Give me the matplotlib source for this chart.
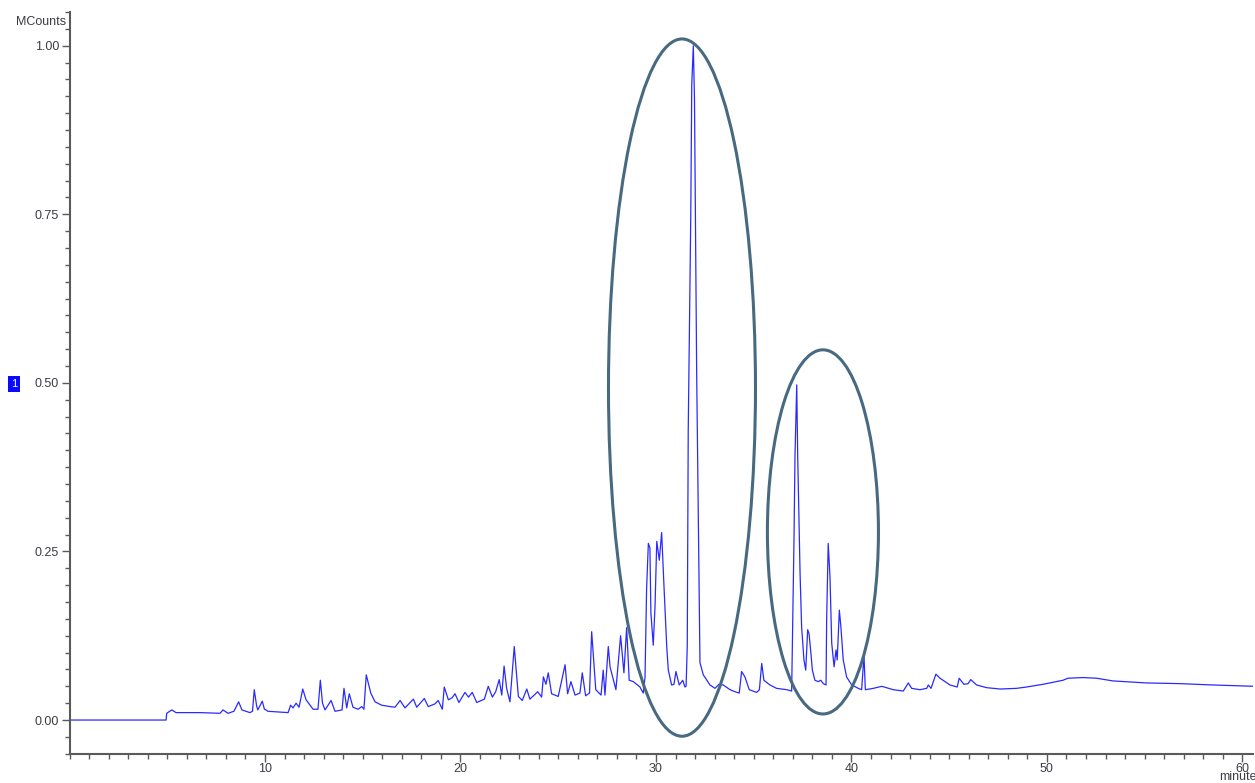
import matplotlib
matplotlib.use("Agg")
import matplotlib.pyplot as plt
from matplotlib.patches import Ellipse
from matplotlib.ticker import MultipleLocator, FormatStrFormatter

plt.rcParams['font.family'] = ['Liberation Sans', 'DejaVu Sans']

# chromatogram trace (minutes, MCounts)
time_min = [
    0.00, 4.94, 4.97, 5.23, 5.45, 6.68, 7.70, 7.85, 8.11, 8.41, 8.65, 8.82, 9.23, 9.36,
    9.45, 9.57, 9.63, 9.86, 9.97, 10.05, 10.15, 11.18, 11.31, 11.43, 11.59, 11.74, 11.93,
    12.10, 12.46, 12.71, 12.83, 12.94, 13.07, 13.38, 13.58, 13.94, 14.04, 14.18, 14.31,
    14.50, 14.76, 14.95, 15.06, 15.18, 15.41, 15.63, 15.97, 16.39, 16.65, 16.91, 17.16,
    17.59, 17.76, 18.15, 18.35, 18.70, 18.86, 19.07, 19.17, 19.38, 19.57, 19.72, 19.92,
    20.23, 20.41, 20.60, 20.83, 21.22, 21.42, 21.63, 21.80, 21.98, 22.11, 22.23, 22.36,
    22.53, 22.75, 22.96, 23.16, 23.39, 23.55, 23.95, 24.15, 24.24, 24.37, 24.49, 24.66,
    25.00, 25.35, 25.48, 25.65, 25.86, 26.11, 26.23, 26.40, 26.60, 26.71, 26.92, 27.19,
    27.30, 27.39, 27.56, 27.65, 27.95, 28.19, 28.36, 28.50, 28.63, 28.84, 29.18, 29.35,
    29.44, 29.52, 29.61, 29.69, 29.74, 29.86, 29.95, 30.04, 30.17, 30.29, 30.41, 30.55,
    30.63, 30.80, 30.92, 31.02, 31.19, 31.37, 31.48, 31.54, 31.60, 31.65, 31.70, 31.78,
    31.83, 31.91, 31.97, 32.08, 32.17, 32.25, 32.42, 32.56, 32.76, 33.02, 33.22, 33.44,
    33.79, 34.04, 34.26, 34.38, 34.55, 34.77, 35.15, 35.29, 35.41, 35.52, 35.83, 36.17,
    36.69, 36.94, 37.06, 37.11, 37.20, 37.25, 37.31, 37.37, 37.45, 37.57, 37.66, 37.76,
    37.83, 37.91, 38.00, 38.13, 38.30, 38.43, 38.56, 38.70, 38.73, 38.81, 38.90, 38.99,
    39.11, 39.21, 39.27, 39.38, 39.46, 39.58, 39.75, 40.01, 40.35, 40.52, 40.64, 40.71,
    41.12, 41.55, 42.14, 42.65, 42.91, 43.08, 43.50, 43.85, 43.93, 44.07, 44.32, 44.53,
    45.04, 45.41, 45.51, 45.75, 45.97, 46.10, 46.40, 46.92, 47.60, 48.45, 48.96, 49.80,
    50.82, 51.07, 51.84, 52.54, 53.38, 55.10, 56.80, 58.49, 60.64,
]
counts = [
    0.000, 0.000, 0.010, 0.015, 0.011, 0.011, 0.010, 0.015, 0.010, 0.013, 0.027, 0.015, 0.011, 0.013,
    0.045, 0.021, 0.015, 0.028, 0.016, 0.015, 0.013, 0.011, 0.022, 0.018, 0.025, 0.019, 0.046,
    0.030, 0.016, 0.016, 0.059, 0.025, 0.015, 0.029, 0.013, 0.015, 0.047, 0.018, 0.039,
    0.019, 0.016, 0.020, 0.016, 0.067, 0.040, 0.027, 0.022, 0.020, 0.019, 0.029, 0.018,
    0.031, 0.019, 0.032, 0.020, 0.024, 0.029, 0.016, 0.049, 0.030, 0.033, 0.039, 0.026,
    0.041, 0.034, 0.041, 0.026, 0.031, 0.050, 0.034, 0.042, 0.060, 0.037, 0.080, 0.047,
    0.027, 0.109, 0.035, 0.029, 0.046, 0.031, 0.042, 0.034, 0.064, 0.053, 0.070, 0.039,
    0.035, 0.082, 0.039, 0.057, 0.037, 0.040, 0.070, 0.036, 0.040, 0.131, 0.045, 0.037,
    0.074, 0.037, 0.109, 0.079, 0.045, 0.125, 0.070, 0.137, 0.059, 0.057, 0.049, 0.040,
    0.064, 0.195, 0.262, 0.255, 0.159, 0.111, 0.168, 0.265, 0.237, 0.278, 0.198, 0.109,
    0.074, 0.052, 0.053, 0.072, 0.052, 0.059, 0.049, 0.050, 0.109, 0.430, 0.549, 0.749,
    0.942, 1.000, 0.920, 0.519, 0.291, 0.085, 0.067, 0.061, 0.052, 0.047, 0.053, 0.052,
    0.045, 0.042, 0.040, 0.072, 0.064, 0.045, 0.041, 0.045, 0.084, 0.059, 0.052, 0.047,
    0.045, 0.043, 0.267, 0.391, 0.497, 0.391, 0.307, 0.218, 0.138, 0.089, 0.074, 0.134,
    0.128, 0.104, 0.074, 0.059, 0.057, 0.059, 0.054, 0.052, 0.148, 0.262, 0.213, 0.114,
    0.079, 0.104, 0.089, 0.163, 0.138, 0.089, 0.064, 0.052, 0.047, 0.045, 0.096, 0.045,
    0.047, 0.050, 0.045, 0.043, 0.055, 0.047, 0.045, 0.047, 0.052, 0.047, 0.068, 0.062,
    0.052, 0.049, 0.062, 0.053, 0.054, 0.060, 0.052, 0.048, 0.046, 0.047, 0.049, 0.053,
    0.059, 0.062, 0.063, 0.062, 0.058, 0.055, 0.054, 0.052, 0.050,
]

# highlighted regions: (centre time, centre counts, width min, height MCounts)
ellipses = [
    (31.33, 0.493, 7.52, 1.034),
    (38.54, 0.279, 5.68, 0.540),
]

y_ticks = [0.00, 0.25, 0.50, 0.75, 1.00]
x_ticks = [10, 20, 30, 40, 50, 60]

trace_color = "#2a2aff"
ring_color = "#486a80"
text_color = "#3c3c46"
axis_color = "#5a5a5a"

fig = plt.figure(figsize=(12.55, 7.83), dpi=100)
ax = fig.add_axes([0.0554, 0.0370, 0.9430, 0.9477])

ax.plot(time_min, counts, color=trace_color, linewidth=0.9, zorder=2)

for cx, cy, w, h in ellipses:
    ax.add_patch(Ellipse((cx, cy), w, h, fill=False, edgecolor=ring_color,
                         linewidth=2.2, zorder=3, clip_on=False))

ax.set_xlim(0, 60.54)
ax.set_ylim(-0.0504, 1.050)

ax.set_xticks(x_ticks)
ax.xaxis.set_minor_locator(MultipleLocator(1))
ax.set_yticks(y_ticks)
ax.yaxis.set_minor_locator(MultipleLocator(0.025))
ax.yaxis.set_major_formatter(FormatStrFormatter('%.2f'))

for s in ['top', 'right']:
    ax.spines[s].set_visible(False)
for s in ['left', 'bottom']:
    ax.spines[s].set_color(axis_color)
    ax.spines[s].set_linewidth(1.5)

ax.tick_params(which='major', length=6, width=1.0, color=axis_color,
               labelsize=9, labelcolor=text_color, pad=1.5)
ax.tick_params(axis='x', which='major', pad=0.5)
ax.tick_params(which='minor', length=3.5, width=1.0, color=axis_color)

fig.text(66 / 1255, 1 - 22 / 783, "MCounts", ha='right', va='center',
         fontsize=9, color=text_color)
fig.text(1238 / 1255, 0.0, "minute", ha='center', va='bottom',
         fontsize=9, color=text_color)
fig.text(14 / 1255, 1 - 384 / 783, "1", ha='center', va='center', fontsize=8,
         color='white',
         bbox=dict(facecolor='#0a0aff', edgecolor='none', boxstyle='square,pad=0.3'))

fig.savefig("out.png", dpi=100, facecolor='white')
